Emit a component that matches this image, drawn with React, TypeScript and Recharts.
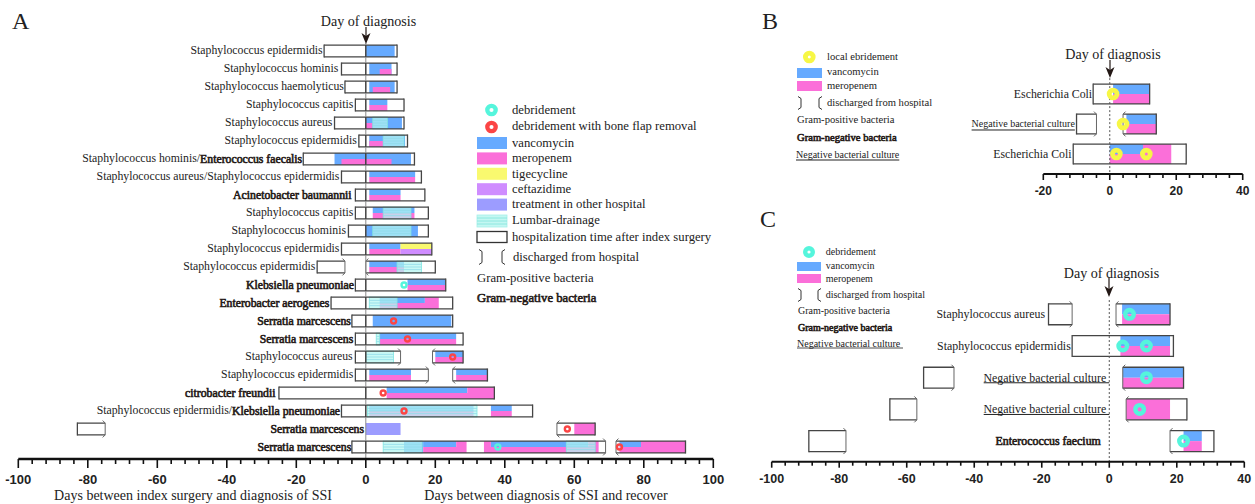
import React from "react";
import { ComposedChart, XAxis, YAxis, ReferenceArea, ReferenceLine, Scatter } from "recharts";

const SERIF = "'Liberation Serif', serif";
const SANS = "'Liberation Sans', sans-serif";
const INK = "#231815";
const BLUE = "#66aaff";
const PINK = "#fb6fd9";
const YELLOW = "#f9f96f";
const PURPLE = "#cf8cff";
const PERI = "#9c9cff";
const CYAN = "#55f5dc";
const RED = "#fb4545";
const RINGY = "#f7f745";

type Seg = [number, number, number, string];
type Box = [number, number, number, string];
type Span = [number, number, number];
type Lab = [number, number, string];
type Pt = [number, number];

// Panel A -------------------------------------------------------------
const ticksA = [-100,-96,-92,-88,-84,-80,-76,-72,-68,-64,-60,-56,-52,-48,-44,-40,-36,-32,-28,-24,-20,-16,-12,-8,-4,0,4,8,12,16,20,24,28,32,36,40,44,48,52,56,60,64,68,72,76,80,84,88,92,96,100];
const labelsA: Lab[] = [
  [1,-12.4,"Staphylococcus epidermidis"],[2,-7.9,"Staphylococcus hominis"],[3,-6.3,"Staphylococcus haemolyticus"],
  [4,-3.6,"Staphylococcus capitis"],[5,-9.6,"Staphylococcus aureus"],[6,-2.6,"Staphylococcus epidermidis"],
  [7,-18.3,"Staphylococcus hominis/*Enterococcus faecalis"],[8,-7.6,"Staphylococcus aureus/Staphylococcus epidermidis"],
  [9,-4.1,"*Acinetobacter baumannii"],[10,-3.6,"Staphylococcus capitis"],[11,-5.7,"Staphylococcus hominis"],
  [12,-7.6,"Staphylococcus epidermidis"],[13,-14.5,"Staphylococcus epidermidis"],[14,-3.4,"*Klebsiella pneumoniae"],
  [15,-10.5,"*Enterobacter aerogenes"],[16,-4.3,"*Serratia marcescens"],[17,-3.6,"*Serratia marcescens"],
  [18,-3.8,"Staphylococcus aureus"],[19,-3.6,"Staphylococcus epidermidis"],[20,-26,"*citrobacter freundii"],
  [21,-7.4,"Staphylococcus epidermidis/*Klebsiella pneumoniae"],[22,-0.5,"*Serratia marcescens"],[23,-4.2,"*Serratia marcescens"],
];
// row, start, end, ends: c = closed, d = discharged (left then right)
const boxesA: Box[] = [
  [1,-12,9,"cc"],[2,-7,9,"cc"],[3,-6,9,"cc"],[4,-3,11,"cc"],[5,-9,11,"cc"],[6,-2,12,"cc"],[7,-18,14,"cc"],[8,-7,16,"cc"],
  [9,-3,17,"cc"],[10,-3,18,"cc"],[11,-5,18,"cc"],[12,-7,19,"cc"],[13,-14,-6,"cd"],[13,0,20,"dc"],[14,-3,23,"cc"],[15,-10,25,"cc"],
  [16,-4,25,"cc"],[17,-3,28,"cc"],[18,-3,10,"cd"],[18,19.2,28,"dc"],[19,-3,18,"cd"],[19,25,35,"dc"],[20,-25,37,"cc"],[21,-7,48,"cc"],
  [22,-83,-75,"cd"],[22,55,66,"dc"],[23,-4,69,"cd"],[23,72,92,"dc"],
];
const vancoA: Seg[] = [
  [1,0,8.3,"f"],[2,1,7.4,"f"],[3,1,8.3,"f"],[4,1,6.2,"t"],[5,0,10.4,"f"],[6,1,11.3,"f"],[7,-9,13,"f"],[8,1,14.2,"t"],[9,1,10,"t"],
  [10,2,14,"t"],[11,0,15,"f"],[12,1,10,"t"],[13,1,11,"t"],[14,12,22.8,"t"],[15,4,17,"t"],[16,2,24.6,"f"],[17,4,26,"t"],[18,20,28,"t"],
  [19,1,13,"t"],[19,26,35,"t"],[20,6,29.2,"t"],[21,1,31,"t"],[21,36,42,"t"],[23,11,16.5,"f"],[23,16.5,26,"t"],[23,36,64,"t"],[23,73,79.2,"t"],
];
const meroA: Seg[] = [
  [2,4,7.4,"b"],[3,2,7,"b"],[4,1,6.2,"b"],[5,0,2,"b"],[6,1,5,"b"],[7,-7,7.4,"b"],[8,1,14.2,"b"],[9,1,10,"b"],[10,2,14,"b"],[12,1,10,"b"],
  [13,1,11,"b"],[14,12,22.8,"b"],[15,4,21,"b"],[15,17,21,"t"],[17,4,26,"b"],[18,20,28,"b"],[19,1,13,"b"],[19,26,35,"b"],[20,6,37,"b"],[20,29.2,37,"t"],
  [21,1,31,"b"],[21,36,42,"b"],[22,60,66,"f"],[23,16.5,29,"b"],[23,26,29,"t"],[23,34,67,"b"],[23,34,36,"t"],[23,64,67,"t"],[23,73,92,"b"],[23,79.2,92,"t"],
];
const tigeA: Seg[] = [[12,10,19,"t"]];
const ceftaA: Seg[] = [[12,10,19,"b"]];
const otherA: Seg[] = [[22,0,10,"f"]];
const lumbarA: Span[] = [[5,2,6.2],[6,5,11],[10,5,13],[11,2,13],[13,9,16],[15,1,9],[17,3,4],[18,0,8],[21,0.5,32],[23,5,16.2],[23,57.7,66]];
const cyanA: Pt[] = [[11,14],[38,23]];
const redA: Pt[] = [[8,16],[12,17],[25,18],[5,20],[11,21],[58,22],[73,23]];
const dividersA = [1,2,3,4,5,6,7,8,9,10,11,12,14,15,16,17,18,19,20,21,23];

// Panel B -------------------------------------------------------------
const ticksB = [-20,-16,-12,-8,-4,0,4,8,12,16,20,24,28,32,36,40];
const labelsB: Lab[] = [[1,-5.3,"Escherichia Coli"],[2,-10.5,"_Negative bacterial culture"],[3,-11.5,"Escherichia Coli"]];
const boxesB: Box[] = [[1,-5,12,"cc"],[2,-10,-4,"cd"],[2,4,14,"dc"],[3,-11,23,"cc"]];
const vancoB: Seg[] = [[1,1,12,"t"],[2,5,14,"t"],[3,0,10,"t"]];
const meroB: Seg[] = [[1,1,12,"b"],[2,5,14,"b"],[3,0,18.5,"b"],[3,10,18.5,"t"]];
const yellowB: Pt[] = [[1,1],[4,2],[2,3],[11,3]];

// Panel C -------------------------------------------------------------
const ticksC = [-100,-96,-92,-88,-84,-80,-76,-72,-68,-64,-60,-56,-52,-48,-44,-40,-36,-32,-28,-24,-20,-16,-12,-8,-4,0,4,8,12,16,20,24,28,32,36,40];
const labelsC: Lab[] = [[1,-19,"Staphylococcus aureus"],[2,-11.4,"Staphylococcus epidermidis"],[3,-0.9,"Negative bacterial culture"],[4,-0.9,"Negative bacterial culture"],[5,-2.5,"*Enterococcus faecium"]];
const boxesC: Box[] = [[1,-18,-11,"cd"],[1,2,18,"dc"],[2,-11,19,"cc"],[3,-55,-46,"cd"],[3,4,22,"dc"],[4,-65,-57,"cd"],[4,5,23,"dc"],[5,-89,-78,"cd"],[5,18,31,"dc"]];
const vancoC: Seg[] = [[1,3.8,18,"t"],[2,3.3,18,"t"],[3,4,22,"t"],[5,22,27.4,"t"]];
const meroC: Seg[] = [[1,3.8,18,"b"],[2,3.3,18,"b"],[3,4,22,"b"],[4,5,18,"f"],[5,22,27.4,"b"]];
const cyanC: Pt[] = [[6,1],[4,2],[11,2],[11,3],[9,4],[22,5]];
const underlinesC: Span[] = [[3,-37.2,0],[4,-37.2,0]];

// Legends -------------------------------------------------------------
const legendSwatchesA: [string, string][] = [["vancomycin",BLUE],["meropenem",PINK],["tigecycline",YELLOW],["ceftazidime",PURPLE],["treatment in other hospital",PERI]];
const arrow = (x: number, y0: number, y1: number) => (
  <g>
    <line x1={x} x2={x} y1={y0} y2={y1-4} stroke={INK} strokeWidth={1.2} />
    <path d={`M${x-4.5},${y1-11} L${x},${y1-8} L${x+4.5},${y1-11} L${x},${y1} Z`} fill={INK} />
  </g>
);
const T = ({ x, y, s, size = 12.7, bold, under, anchor }: any) => (
  <text x={x} y={y} fontFamily={SERIF} fontSize={size} fill={bold ? INK : "#222"} stroke={bold ? INK : "none"} strokeWidth={bold ? 0.6 : 0} textAnchor={anchor || "start"} dominantBaseline="central" textDecoration={under ? "underline" : undefined}>{s}</text>
);
const Brackets = ({ x0, x1, y, h }: any) => (
  <g fill="none" stroke="#333" strokeWidth={1}>
    <path d={`M${x0-3},${y-h/2-1} L${x0},${y-h/2+1} L${x0},${y+h/2-1} L${x0-3},${y+h/2+1}`} />
    <path d={`M${x1+3},${y-h/2-1} L${x1},${y-h/2+1} L${x1},${y+h/2-1} L${x1+3},${y+h/2+1}`} />
  </g>
);
const Ring = ({ x, y, r, w, c }: any) => <circle cx={x} cy={y} r={r} fill="#fff" stroke={c} strokeWidth={w} />;

// Panel ----------------------------------------------------------------
const ringShape = (r: number, w: number, c: string) => (p: any) => <circle cx={p.cx} cy={p.cy} r={r} fill="none" stroke={c} strokeWidth={w} />;
const labelShape = (size: number, underSize: number) => (p: any) => {
  const raw: string = p.payload.text;
  const under = raw.startsWith("_");
  const txt = raw.replace("_", "");
  const idx = txt.indexOf("*");
  const plain = idx < 0 ? txt : txt.slice(0, idx);
  const bold = idx < 0 ? "" : txt.slice(idx + 1);
  return (
    <text x={p.cx} y={p.cy} textAnchor="end" dominantBaseline="central" fontFamily={SERIF} fontSize={under ? underSize : size} fill="#222" textDecoration={under ? "underline" : undefined}>
      {plain}
      {bold ? <tspan fill={INK} stroke={INK} strokeWidth={0.6}>{bold}</tspan> : null}
    </text>
  );
};
const fillRect = (p: any) => <rect x={p.x} y={p.y} width={p.width} height={p.height} fill="#fff" />;
const outline = (ends: string) => (p: any) => {
  const { x, y, width: w, height: h } = p;
  const x2 = x + w;
  const y2 = y + h;
  return (
    <g fill="none">
      <path d={`M${x},${y} H${x2} M${x},${y2} H${x2}`} stroke="#454545" strokeWidth={1.3} />
      {ends[0] === "c"
        ? <path d={`M${x},${y-0.6} V${y2+0.6}`} stroke="#454545" strokeWidth={1.3} />
        : <path d={`M${x+2.5},${y-2.5} L${x},${y} V${y2} L${x+2.5},${y2+2.5}`} stroke="#666" strokeWidth={1} />}
      {ends[1] === "c"
        ? <path d={`M${x2},${y-0.6} V${y2+0.6}`} stroke="#454545" strokeWidth={1.3} />
        : <path d={`M${x2-2.5},${y-2.5} L${x2},${y} V${y2} L${x2-2.5},${y2+2.5}`} stroke="#666" strokeWidth={1} />}
    </g>
  );
};
const lumbarShape = (p: any) => {
  const { x, y, width: w, height: h } = p;
  return (
    <g>
      <rect x={x} y={y} width={w} height={h} fill="#b4f7f1" fillOpacity={0.72} stroke="#7fe8e0" strokeWidth={0.8} />
      {[0.28, 0.5, 0.72].map((f) => <line key={f} x1={x} x2={x + w} y1={y + h * f} y2={y + h * f} stroke="#8fdcea" strokeWidth={0.8} />)}
    </g>
  );
};
const tickShape = (major: number, minor: number, dy: number, size: number) => (p: any) => {
  const v = p.payload.value;
  const isMajor = v % 20 === 0;
  return (
    <g>
      <line x1={p.x} x2={p.x} y1={p.y} y2={p.y + (isMajor ? major : minor)} stroke="#111" strokeWidth={1.6} />
      {isMajor ? <text x={p.x} y={p.y + dy} textAnchor="middle" dominantBaseline="central" fontFamily={SANS} fontWeight={700} fontSize={size} fill="#222">{v}</text> : null}
    </g>
  );
};

const Panel = ({ style, w, h, margin, xDomain, yDomain, ticks, axisH, half, boxes, layers, lumbar = [], dividers = [], rings, labels, labelSize, underSize = 10, refFrom, dashed, tick, underlines = [], axisW = 2 }: any) => {
  const rowY = (r: number, part: string) => (part === "t" ? [r - half, r] : part === "b" ? [r, r + half] : [r - half, r + half]);
  const labelData = labels.map((l: Lab) => ({ y: l[0], x: l[1], text: l[2] }));
  return (
    <div style={{ position: "absolute", ...style }}>
      <ComposedChart width={w} height={h} margin={margin}>
        <XAxis type="number" dataKey="x" domain={xDomain} ticks={ticks} interval={0} tickSize={0} tickMargin={0} tickLine={false} height={axisH} axisLine={{ stroke: "#111", strokeWidth: axisW }} tick={tickShape(tick[0], tick[1], tick[2], tick[3])} />
        <YAxis type="number" dataKey="y" domain={yDomain} reversed hide width={0} />
        {boxes.map((b: Box, i: number) => (
          <ReferenceArea key={"w" + i} x1={b[1]} x2={b[2]} y1={b[0] - half} y2={b[0] + half} shape={fillRect} />
        ))}
        {layers.map((layer: any, j: number) =>
          layer.data.map((s: Seg, i: number) => {
            const [y1, y2] = rowY(s[0], s[3]);
            return <ReferenceArea key={`s${j}-${i}`} x1={s[1]} x2={s[2]} y1={y1} y2={y2} fill={layer.color} fillOpacity={1} stroke="none" />;
          })
        )}
        {lumbar.map((s: Span, i: number) => (
          <ReferenceArea key={"l" + i} x1={s[1]} x2={s[2]} y1={s[0] - half} y2={s[0] + half} shape={lumbarShape} />
        ))}
        {boxes.map((b: Box, i: number) => (
          <ReferenceArea key={"o" + i} x1={b[1]} x2={b[2]} y1={b[0] - half} y2={b[0] + half} shape={outline(b[3])} />
        ))}
        <ReferenceLine segment={[{ x: 0, y: refFrom }, { x: 0, y: yDomain[1] }]} stroke={dashed ? "#555" : "#8a8a8a"} strokeWidth={1} strokeDasharray={dashed ? "2 2" : undefined} />
        {dividers.map((r: number) => (
          <ReferenceLine key={"d" + r} segment={[{ x: 0, y: r - half }, { x: 0, y: r + half }]} stroke="#333" strokeWidth={1.2} />
        ))}
        {underlines.map((u: Span, i: number) => (
          <ReferenceLine key={"u" + i} segment={[{ x: u[1], y: u[0] + 0.16 }, { x: u[2], y: u[0] + 0.16 }]} stroke="#222" strokeWidth={1} />
        ))}
        {rings.map((g: any, i: number) => (
          <Scatter key={"r" + i} data={g.data.map((p: Pt) => ({ x: p[0], y: p[1] }))} isAnimationActive={false} shape={ringShape(g.r, g.w, g.color)} />
        ))}
        <Scatter data={labelData} isAnimationActive={false} shape={labelShape(labelSize, underSize)} />
      </ComposedChart>
    </div>
  );
};

export default function App() {
  return (
    <div style={{ position: "absolute", left: 0, top: 0, width: 1255, height: 504, background: "#fff", overflow: "hidden" }}>
      <Panel style={{ left: 0, top: 0 }} w={740} h={504} margin={{ top: 33, right: 26.7, bottom: 0, left: 18.3 }} xDomain={[-100, 100]} yDomain={[0, 23.667]} ticks={ticksA} axisH={45} half={0.33}
        boxes={boxesA}
        layers={[{ color: BLUE, data: vancoA }, { color: PINK, data: meroA }, { color: YELLOW, data: tigeA }, { color: PURPLE, data: ceftaA }, { color: PERI, data: otherA }]}
        lumbar={lumbarA} dividers={dividersA} axisW={2.6}
        rings={[{ data: cyanA, r: 2.5, w: 2.4, color: CYAN }, { data: redA, r: 2.5, w: 2.4, color: RED }]}
        labels={labelsA} labelSize={11.75} refFrom={0.55} tick={[9, 5, 20, 13]} />
      <Panel style={{ left: 950, top: 0 }} w={305} h={210} margin={{ top: 64, right: 12.3, bottom: 0, left: 93.3 }} xDomain={[-20, 40]} yDomain={[0, 3.667]} ticks={ticksB} axisH={36} half={0.33}
        boxes={boxesB} layers={[{ color: BLUE, data: vancoB }, { color: PINK, data: meroB }]}
        rings={[{ data: yellowB, r: 3.9, w: 4.8, color: RINGY }]}
        labels={labelsB} labelSize={11.8} underSize={10} refFrom={0.47} dashed tick={[6, 4, 17, 12]} />
      <Panel style={{ left: 750, top: 210 }} w={505} h={294} margin={{ top: 72.6, right: 10.7, bottom: 0, left: 21.7 }} xDomain={[-100, 40]} yDomain={[0, 5.65]} ticks={ticksC} axisH={42.3} half={0.33}
        boxes={boxesC} layers={[{ color: BLUE, data: vancoC }, { color: PINK, data: meroC }]}
        rings={[{ data: cyanC, r: 4.3, w: 4.4, color: CYAN }]}
        labels={labelsC} labelSize={11.9} refFrom={0.55} dashed tick={[6, 4, 17.5, 12.5]} underlines={underlinesC} />

      <svg width={1255} height={504} style={{ position: "absolute", left: 0, top: 0, pointerEvents: "none" }}>
        <T x={12} y={21} s="A" size={24} />
        <T x={762} y={21} s="B" size={24} />
        <T x={760} y={219} s="C" size={24} />
        <T x={368.5} y={21} s="Day of diagnosis" size={14.1} anchor="middle" />
        <T x={1113} y={54} s="Day of diagnosis" size={14.1} anchor="middle" />
        <T x={1111.5} y={272.7} s="Day of diagnosis" size={14.1} anchor="middle" />
        {arrow(366, 27, 44)}
        {arrow(1110, 60, 78)}
        {arrow(1109, 278, 297)}
        <T x={193} y={495} s="Days between index surgery and diagnosis of SSI" size={14} anchor="middle" />
        <T x={546} y={495} s="Days between diagnosis of SSI and recover" size={14} anchor="middle" />

        <Ring x={491.5} y={110} r={4.2} w={4.3} c={CYAN} />
        <Ring x={491.5} y={127} r={4.2} w={4.3} c={RED} />
        <T x={512} y={110} s="debridement" />
        <T x={512} y={125.5} s="debridement with bone flap removal" />
        {legendSwatchesA.map(([name, color], i) => (
          <g key={name}>
            <rect x={477} y={137 + i * 15.4} width={30} height={12} fill={color} />
            <T x={512} y={142.7 + i * 15.4} s={name} />
          </g>
        ))}
        <rect x={477} y={215} width={30} height={12} fill="#c4f7f2" stroke="#a6efe8" strokeWidth={0.8} />
        {[218, 221, 224].map((y) => <line key={y} x1={477} x2={507} y1={y} y2={y} stroke="#80e4dc" strokeWidth={0.8} />)}
        <T x={512} y={220} s="Lumbar-drainage" />
        <rect x={477} y={231.5} width={30} height={11} fill="#fff" stroke="#333" strokeWidth={1.3} />
        <T x={512} y={236.5} s="hospitalization time after index surgery" />
        <Brackets x0={482} x1={502} y={257} h={13} />
        <T x={513} y={257} s="discharged from hospital" />
        <T x={477} y={277.5} s="Gram-positive bacteria" />
        <T x={477} y={298} s="Gram-negative bacteria" bold />

        <Ring x={809.3} y={57} r={3.9} w={4.8} c={RINGY} />
        <T x={827} y={56} s="local ebridement" size={10.6} />
        <rect x={797} y={68} width={25} height={10} fill={BLUE} />
        <T x={827} y={71.5} s="vancomycin" size={10.6} />
        <rect x={797} y={81} width={25} height={10} fill={PINK} />
        <T x={827} y={85} s="meropenem" size={10.6} />
        <Brackets x0={801} x1={819} y={103} h={11} />
        <T x={827} y={102} s="discharged from hospital" size={10.6} />
        <T x={797} y={119.5} s="Gram-positive bacteria" size={10.6} />
        <T x={797} y={137} s="Gram-negative bacteria" size={10.6} bold />
        <T x={796} y={154} s="Negative bacterial culture" size={10} under />

        <Ring x={809} y={252} r={3.8} w={4.4} c={CYAN} />
        <T x={825.7} y={251} s="debridement" size={10} />
        <rect x={797} y={262} width={24} height={9} fill={BLUE} />
        <T x={825.7} y={265} s="vancomycin" size={10} />
        <rect x={797} y={274} width={24} height={9} fill={PINK} />
        <T x={825.7} y={278} s="meropenem" size={10} />
        <Brackets x0={801} x1={818} y={295} h={11} />
        <T x={825.7} y={294} s="discharged from hospital" size={10} />
        <T x={798} y={310} s="Gram-positive bacteria" size={10} />
        <T x={798} y={327} s="Gram-negative bacteria" size={10} bold />
        <T x={797} y={343} s="Negative bacterial culture" size={10} />
        <line x1={797} x2={903} y1={348} y2={348} stroke="#222" strokeWidth={0.8} />
      </svg>
    </div>
  );
}
